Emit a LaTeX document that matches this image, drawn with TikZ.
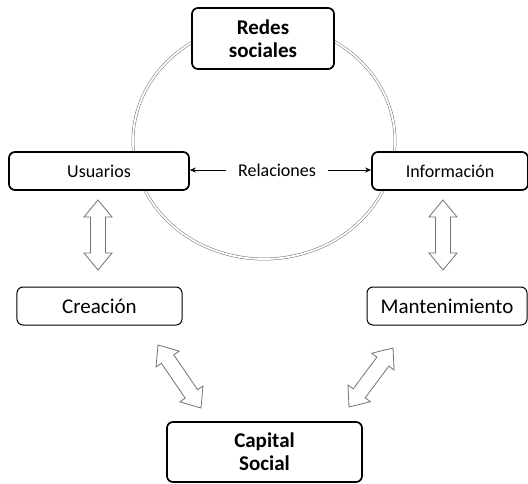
\documentclass[tikz,border=0pt]{standalone}
\usepackage{fontspec}
\setmainfont{Carlito}
\usetikzlibrary{calc,arrows.meta}

% block double arrow between two named coordinates
\newcommand\dualarrow[2]{%
  \draw[blockarrow] (#1)
    -- ($(#1)!17bp!(#2)!14bp!90:(#2)$)
    -- ($(#1)!17bp!(#2)!7.5bp!90:(#2)$)
    -- ($(#2)!17bp!(#1)!7.5bp!-90:(#1)$)
    -- ($(#2)!17bp!(#1)!14bp!-90:(#1)$)
    -- (#2)
    -- ($(#2)!17bp!(#1)!14bp!90:(#1)$)
    -- ($(#2)!17bp!(#1)!7.5bp!90:(#1)$)
    -- ($(#1)!17bp!(#2)!7.5bp!-90:(#2)$)
    -- ($(#1)!17bp!(#2)!14bp!-90:(#2)$)
    -- cycle;}

\tikzset{
  box/.style={draw=black, fill=white, rounded corners=6bp, align=center,
    inner sep=0pt},
  heavybox/.style={box, line width=1.7bp},
  lightbox/.style={box, line width=1bp},
  small/.style={font=\fontsize{18bp}{22bp}\selectfont},
  large/.style={font=\fontsize{21bp}{23bp}\selectfont},
  largebold/.style={font=\fontsize{21bp}{23bp}\selectfont\bfseries},
  blockarrow/.style={draw=black!55, fill=white, line width=0.8bp,
    line join=miter},
  ring/.style={draw=black!55, line width=0.5bp, double=white,
    double distance=1.8bp},
  link/.style={draw=black, line width=0.6bp, -{Stealth[length=6bp,width=5bp]}}
}

\begin{document}
\begin{tikzpicture}[x=1bp,y=-1bp]
  \useasboundingbox[fill=white] (0,0) rectangle (528,484);

  % ring behind the boxes
  \draw[ring] (264,141) ellipse [x radius=131, y radius=118];

  % boxes
  \node[heavybox, largebold, minimum width=142bp, minimum height=61bp]
    (redes) at (263,38.5) {Redes\\sociales};
  \node[heavybox, small, minimum width=180bp, minimum height=38bp]
    (usuarios) at (99,171) {Usuarios};
  \node[heavybox, small, minimum width=156bp, minimum height=38bp]
    (info) at (450,171) {Información};
  \node[lightbox, large, minimum width=165bp, minimum height=38bp]
    (creacion) at (99.5,306) {Creación};
  \node[lightbox, large, minimum width=160bp, minimum height=38bp]
    (mant) at (447,306) {Mantenimiento};
  \node[heavybox, largebold, minimum width=195bp, minimum height=60bp]
    (capital) at (264.5,452) {Capital\\Social};

  % relation label with arrows to both sides
  \node[small, inner xsep=12bp, inner ysep=0pt] (rel) at (277,170) {Relaciones};
  \draw[link] (rel.west) -- (usuarios.east |- rel.west);
  \draw[link] (rel.east) -- (info.west |- rel.east);

  % block arrows
  \coordinate (a1) at (98,200);  \coordinate (a2) at (98,270);
  \coordinate (b1) at (443,200); \coordinate (b2) at (443,270);
  \coordinate (c1) at (158,345); \coordinate (c2) at (201,408);
  \coordinate (d1) at (393,348); \coordinate (d2) at (349,407);
  \dualarrow{a1}{a2}
  \dualarrow{b1}{b2}
  \dualarrow{c1}{c2}
  \dualarrow{d1}{d2}
\end{tikzpicture}
\end{document}
